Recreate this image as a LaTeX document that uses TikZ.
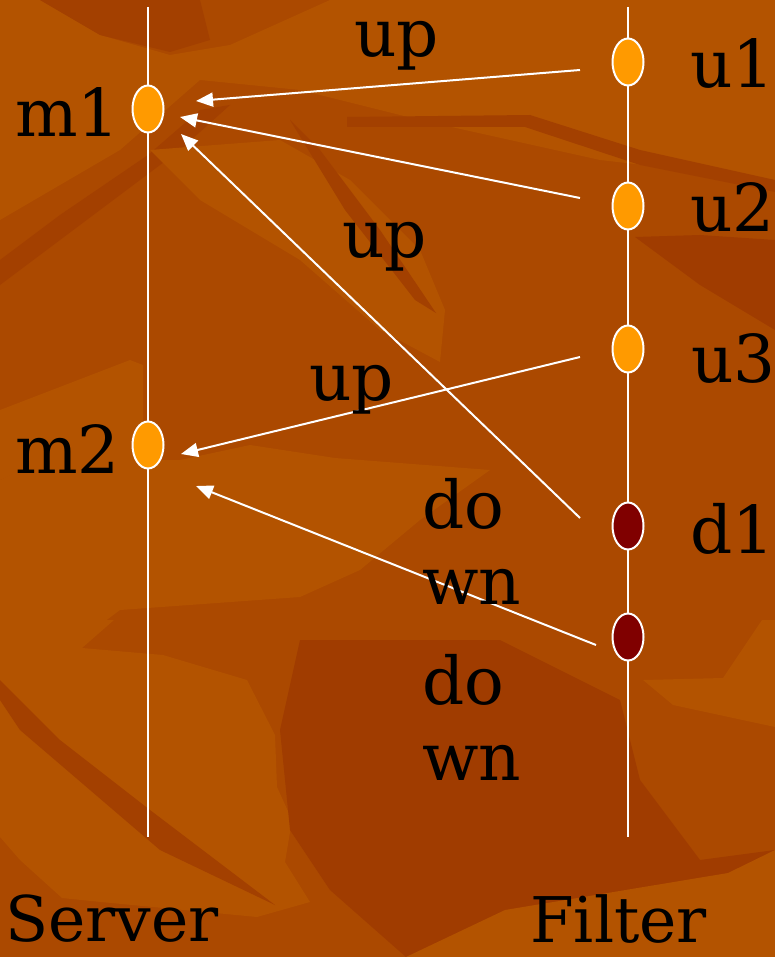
\documentclass[tikz,border=0pt]{standalone}
\usepackage{fontspec}
\setmainfont{DejaVu Serif}
\usetikzlibrary{arrows.meta,shapes.geometric}
\definecolor{bgbase}{HTML}{AB4900}
\definecolor{bglight}{HTML}{B35300}
\definecolor{bgdark}{HTML}{A34000}
\definecolor{bgdeep}{HTML}{A03C00}
\definecolor{dotorange}{HTML}{FF9A00}
\definecolor{dotred}{HTML}{800000}
\tikzset{
  timeline/.style={draw=white, line width=2pt},
  dot/.style={ellipse, draw=white, line width=2pt, minimum width=31pt, minimum height=47pt, inner sep=0pt},
  updot/.style={dot, fill=dotorange},
  downdot/.style={dot, fill=dotred},
  msg/.style={draw=white, line width=2pt, -{Triangle[length=17pt,width=14pt]}},
  lbl/.style={anchor=base west, inner sep=0pt, text=black, font=\fontsize{66}{76}\selectfont},
  big/.style={anchor=base west, inner sep=0pt, text=black, font=\fontsize{63}{70}\selectfont},
}
\begin{document}
\begin{tikzpicture}[x=1pt,y=-1pt]
\useasboundingbox (0,0) rectangle (775,957);
% background
\fill[bgbase] (0,0) rectangle (775,957);
\fill[bglight] (0,0) -- (40,0) -- (100,35) -- (170,55) -- (230,45) -- (330,0) -- (775,0) -- (775,180) -- (600,160) -- (420,120) -- (300,90) -- (200,80) -- (120,150) -- (0,220) -- cycle;
\fill[bgdark] (40,0) -- (200,0) -- (210,40) -- (170,52) -- (100,35) -- cycle;
\fill[bgdark] (0,260) -- (60,215) -- (148,155) -- (200,110) -- (230,105) -- (180,150) -- (100,210) -- (0,285) -- cycle;
\fill[bglight] (150,150) -- (280,140) -- (350,180) -- (420,250) -- (445,310) -- (440,362) -- (380,330) -- (300,260) -- (200,200) -- cycle;
\fill[bgdark] (290,120) -- (320,150) -- (380,230) -- (436,313) -- (415,300) -- (345,210) -- cycle;
\fill[bgdark] (347,117) -- (530,115) -- (640,150) -- (775,180) -- (775,192) -- (640,165) -- (525,127) -- (347,127) -- cycle;
\fill[bgdeep] (635,237) -- (700,235) -- (775,240) -- (775,330) -- (700,285) -- cycle;
\fill[bglight] (0,410) -- (130,360) -- (143,365) -- (143,470) -- (40,462) -- (0,480) -- cycle;
\fill[bglight] (0,480) -- (40,460) -- (180,460) -- (250,445) -- (335,458) -- (490,470) -- (420,520) -- (360,570) -- (300,597) -- (120,610) -- (80,640) -- (0,640) -- cycle;
\fill[bglight] (0,620) -- (114,620) -- (82,648) -- (163,655) -- (247,680) -- (275,735) -- (277,787) -- (292,820) -- (285,862) -- (310,902) -- (257,917) -- (101,902) -- (62,898) -- (20,860) -- (0,837) -- cycle;
\fill[bgdark] (0,700) -- (20,730) -- (160,850) -- (275,905) -- (150,810) -- (60,740) -- (0,680) -- cycle;
\fill[bgdeep] (300,640) -- (500,640) -- (620,700) -- (640,780) -- (700,860) -- (775,850) -- (775,957) -- (406,957) -- (330,890) -- (290,830) -- (280,730) -- cycle;
\fill[bglight] (406,957) -- (505,910) -- (728,873) -- (775,850) -- (775,957) -- cycle;
\fill[bglight] (643,680) -- (723,678) -- (762,620) -- (775,620) -- (775,727) -- (673,705) -- cycle;
% timelines
\coordinate (stop) at (148,7);
\coordinate (sbot) at (148,837);
\coordinate (ftop) at (628,7);
\coordinate (fbot) at (628,837);
\draw[timeline] (stop) -- (sbot);
\draw[timeline] (ftop) -- (fbot);
% dots
\node[updot] (m1) at (148,109) {};
\node[updot] (m2) at (148,445) {};
\node[updot] (u1) at (628,62) {};
\node[updot] (u2) at (628,206) {};
\node[updot] (u3) at (628,349) {};
\node[downdot] (d1) at (628,526) {};
\node[downdot] (d2) at (628,637) {};
% arrow end points
\coordinate (a1s) at (580,70);
\coordinate (a1e) at (196,101);
\coordinate (a2s) at (580,198);
\coordinate (a2e) at (180,117);
\coordinate (a3s) at (580,518);
\coordinate (a3e) at (181,134);
\coordinate (a4s) at (580,357);
\coordinate (a4e) at (181,454);
\coordinate (a5s) at (596,645);
\coordinate (a5e) at (196,486);
\draw[msg] (a1s) -- (a1e);
\draw[msg] (a2s) -- (a2e);
\draw[msg] (a3s) -- (a3e);
\draw[msg] (a4s) -- (a4e);
\draw[msg] (a5s) -- (a5e);
% labels
\node[lbl] (lm1) at (15,137) {m1};
\node[lbl] (lm2) at (15,473) {m2};
\node[lbl] (lu1) at (690,88) {u1};
\node[lbl] (lu2) at (690,232) {u2};
\node[lbl] (lu3) at (691,382) {u3};
\node[lbl] (ld1) at (690,553) {d1};
\node[lbl] (up1) at (354,57) {up};
\node[lbl] (up2) at (342,258) {up};
\node[lbl] (up3) at (309,400) {up};
\node[lbl, align=left] (dn1) at (422,604) {do\\wn};
\node[lbl, align=left] (dn2) at (422,780) {do\\wn};
\node[big] (server) at (5,941) {Server};
\node[big] (filter) at (530,942) {Filter};
\end{tikzpicture}
\end{document}
